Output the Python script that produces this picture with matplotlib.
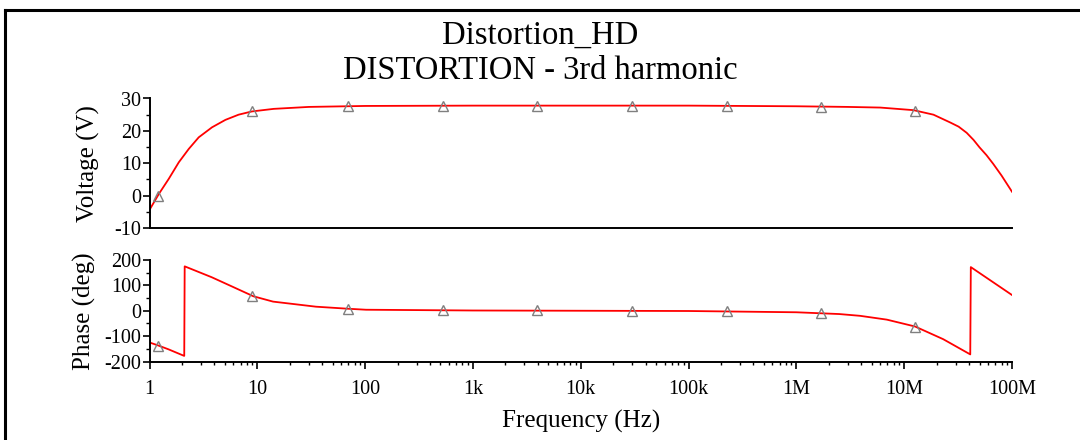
import numpy as np
import matplotlib
matplotlib.use('Agg')
import matplotlib.pyplot as plt
from matplotlib.lines import Line2D
from matplotlib.ticker import FixedLocator, FixedFormatter, LogLocator, NullFormatter, MultipleLocator

# voltage trace
volt_freq = [1, 1.22, 1.51, 1.87, 2.31, 2.86, 3.8, 5.06, 6.7, 8.9, 14.2, 30, 100,
             1e3, 1e4, 1e5, 1e6, 3e6, 6e6, 1.22e7, 1.87e7, 2.67e7, 3.2e7,
             3.8e7, 4.4e7, 5e7, 5.8e7, 6.7e7, 8e7, 1e8]
volt_vals = [-4.4, 0.5, 5.2, 10.3, 14.4, 18, 21.1, 23.4, 25, 26, 26.8, 27.4, 27.7,
             27.8, 27.8, 27.8, 27.6, 27.4, 27.2, 26.4, 25, 22.6, 21.3,
             19.4, 17.2, 14.9, 12.5, 9.8, 6.2, 1.2]

# phase trace
phase_freq = [1, 1.19, 1.5, 2.1, 2.12, 3.78, 5.8, 9.2, 14, 35, 69, 102,
              1e3, 1e4, 1e5, 1e6, 2.5e6, 3.9e6, 6.9e6, 1.26e7, 2.3e7,
              4.1e7, 4.15e7, 1e8]
phase_vals = [-125, -136, -152, -178, 175, 132, 96, 57, 36, 16, 8, 4,
              1, 0, -1, -6, -13, -20, -35, -62, -112,
              -172, 172, 62]

# marker points
mark_freq = [1.19, 9.0, 69, 524, 3.9e3, 2.96e4, 2.27e5, 1.7e6, 1.26e7]
mark_volt = [0, 26.1, 27.7, 27.8, 27.8, 27.8, 27.7, 27.5, 26.1]
mark_phase = [-140, 59, 8, 2, 1, 0, -2, -10, -63]

xtick_vals = [1, 10, 100, 1e3, 1e4, 1e5, 1e6, 1e7, 1e8]
xtick_labels = ['1', '10', '100', '1k', '10k', '100k', '1M', '10M', '100M']

plt.rcParams['font.family'] = ['Liberation Serif', 'DejaVu Serif']
plt.rcParams['axes.unicode_minus'] = False

W, H = 1080, 440
fig = plt.figure(figsize=(W / 100, H / 100), dpi=100)

# outer frame (only top and left edges are in view)
fig.add_artist(Line2D([5 / W, 5 / W], [0, 1 - 10 / H], color='black', lw=2.2))
fig.add_artist(Line2D([5 / W, 1], [1 - 10 / H, 1 - 10 / H], color='black', lw=2.2))

fig.text(0.5, 1 - 36 / H, 'Distortion_HD', ha='center', va='center', fontsize=23.5)
fig.text(0.5, 1 - 71 / H, 'DISTORTION - 3rd harmonic', ha='center', va='center', fontsize=23.5)

left, right = 149.5 / W, 1012 / W
ax1 = fig.add_axes([left, (H - 228) / H, right - left, 129.5 / H])
ax2 = fig.add_axes([left, (H - 361.5) / H, right - left, 101.5 / H])

marker_kw = dict(linestyle='none', marker='^', markersize=7, markerfacecolor='none',
                 markeredgecolor='#7f7f7f', markeredgewidth=1.0, zorder=4)

for ax in (ax1, ax2):
    ax.set_xscale('log')
    ax.set_xlim(1, 1e8)
    for s in ('top', 'right'):
        ax.spines[s].set_visible(False)
    for s in ('left', 'bottom'):
        ax.spines[s].set_linewidth(1.4)
    ax.tick_params(axis='y', which='major', direction='out', length=5, width=1.2,
                   labelsize=14.5, pad=1)
    ax.tick_params(axis='y', which='minor', direction='out', length=3, width=1.0)

ax1.plot(volt_freq, volt_vals, color='#ff0000', lw=1.3)
ax1.plot(mark_freq, mark_volt, **marker_kw)
ax1.set_ylim(-10, 30)
ax1.set_yticks([-10, 0, 10, 20, 30])
ax1.yaxis.set_minor_locator(MultipleLocator(5))
ax1.tick_params(axis='x', which='both', bottom=False, labelbottom=False)
ax1.set_ylabel('Voltage (V)', fontsize=18, labelpad=10)

ax2.plot(phase_freq, phase_vals, color='#ff0000', lw=1.3)
ax2.plot(mark_freq, mark_phase, **marker_kw)
ax2.set_ylim(-200, 200)
ax2.set_yticks([-200, -100, 0, 100, 200])
ax2.yaxis.set_minor_locator(MultipleLocator(50))
ax2.xaxis.set_major_locator(FixedLocator(xtick_vals))
ax2.xaxis.set_major_formatter(FixedFormatter(xtick_labels))
ax2.xaxis.set_minor_locator(LogLocator(base=10, subs=np.arange(2, 10)))
ax2.xaxis.set_minor_formatter(NullFormatter())
ax2.tick_params(axis='x', which='major', direction='out', length=5, width=1.2,
                labelsize=14.5, pad=8)
ax2.tick_params(axis='x', which='minor', direction='out', length=2.5, width=1.0)
ax2.set_ylabel('Phase (deg)', fontsize=18, labelpad=6)
ax2.set_xlabel('Frequency (Hz)', fontsize=18, labelpad=8)

fig.align_ylabels([ax1, ax2])

fig.savefig('out.png', dpi=100)
